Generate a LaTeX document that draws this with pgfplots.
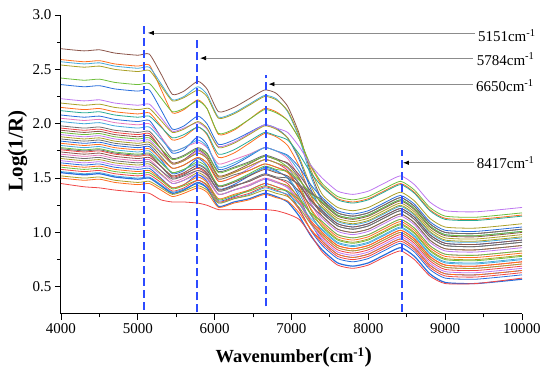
\documentclass[border=0pt]{standalone}
\usepackage{fontspec}
\setmainfont{Liberation Serif}
\usepackage{pgfplots}
\pgfplotsset{compat=1.18}
\usetikzlibrary{arrows.meta}
\definecolor{cbrown}{RGB}{140,86,75}
\definecolor{corange}{RGB}{255,110,30}
\definecolor{ccyan}{RGB}{70,170,220}
\definecolor{colive}{RGB}{170,160,40}
\definecolor{cgreen}{RGB}{110,190,60}
\definecolor{cblue}{RGB}{40,110,220}
\definecolor{cpurple}{RGB}{190,120,240}
\definecolor{cred}{RGB}{240,70,70}
\definecolor{cpink}{RGB}{230,120,190}
\definecolor{cgray}{RGB}{110,110,110}
\definecolor{cteal}{RGB}{40,170,150}
\definecolor{arrgray}{RGB}{140,140,140}
\definecolor{dashblue}{RGB}{45,75,255}
\begin{document}
\begin{tikzpicture}
\begin{axis}[
  scale only axis, width=461pt, height=299pt,
  at={(0,0)}, anchor=south west,
  xmin=4000, xmax=10000, ymin=0.25, ymax=3.0,
  axis x line*=bottom, axis y line*=left,
  xtick={4000,5000,6000,7000,8000,9000,10000},
  ytick={0.5,1.0,1.5,2.0,2.5,3.0},
  scaled x ticks=false, scaled y ticks=false,
  minor x tick num=1, minor y tick num=1,
  tick align=outside,
  major tick length=6pt, minor tick length=3.5pt,
  every tick/.style={black, line width=0.9pt},
  axis line style={black, line width=1pt},
  tick label style={font=\fontsize{15}{15}\selectfont},
  /pgf/number format/assume math mode=true,
  xticklabel style={/pgf/number format/.cd, fixed, precision=0, 1000 sep={}},
  yticklabel style={/pgf/number format/.cd, fixed, fixed zerofill, precision=1},
  xlabel={\fontsize{18.5}{18.5}\selectfont\bfseries Wavenumber{\fontsize{22}{22}\selectfont(}cm\textsuperscript{-1}{\fontsize{22}{22}\selectfont)}},
  ylabel={\fontsize{21}{21}\selectfont\bfseries Log(1/R)},
  xlabel style={at={(axis description cs:0.505,-0.144)}, anchor=center},
  ylabel style={at={(axis description cs:-0.094,0.545)}, anchor=center},
  clip=false,
  spec/.style={smooth, tension=0.35, line width=0.8pt},
  mark line/.style={color=dashblue, line width=1.7pt, dash pattern=on 8pt off 4pt},
]
\addplot[spec, cbrown] coordinates {(4000,2.69)(4300,2.67)(4500,2.68)(4700,2.65)(5000,2.63)(5150,2.64)(5300,2.46)(5450,2.27)(5600,2.30)(5780,2.39)(5900,2.32)(6050,2.11)(6250,2.15)(6450,2.23)(6650,2.31)(6800,2.28)(6950,2.16)(7100,1.91)(7250,1.55)(7400,1.30)(7600,1.18)(7800,1.15)(8000,1.18)(8200,1.25)(8420,1.32)(8600,1.24)(8800,1.08)(9000,1.00)(9400,0.99)(10000,1.03)};
\addplot[spec, corange] coordinates {(4000,2.59)(4300,2.57)(4500,2.58)(4700,2.55)(5000,2.53)(5150,2.54)(5300,2.32)(5450,2.10)(5600,2.13)(5780,2.22)(5900,2.14)(6050,1.90)(6250,1.94)(6450,2.04)(6650,2.14)(6800,2.11)(6950,2.03)(7100,1.86)(7250,1.61)(7400,1.43)(7600,1.31)(7800,1.28)(8000,1.31)(8200,1.38)(8420,1.45)(8600,1.37)(8800,1.21)(9000,1.13)(9400,1.12)(10000,1.16)};
\addplot[spec, ccyan] coordinates {(4000,2.57)(4300,2.55)(4500,2.56)(4700,2.53)(5000,2.51)(5150,2.52)(5300,2.37)(5450,2.22)(5600,2.25)(5780,2.34)(5900,2.27)(6050,2.06)(6250,2.10)(6450,2.18)(6650,2.26)(6800,2.23)(6950,2.11)(7100,1.87)(7250,1.52)(7400,1.28)(7600,1.16)(7800,1.13)(8000,1.16)(8200,1.23)(8420,1.30)(8600,1.22)(8800,1.06)(9000,0.98)(9400,0.97)(10000,1.01)};
\addplot[spec, colive] coordinates {(4000,2.54)(4300,2.52)(4500,2.53)(4700,2.50)(5000,2.48)(5150,2.49)(5300,2.35)(5450,2.21)(5600,2.24)(5780,2.31)(5900,2.25)(6050,2.05)(6250,2.09)(6450,2.17)(6650,2.25)(6800,2.22)(6950,2.12)(7100,1.89)(7250,1.58)(7400,1.35)(7600,1.23)(7800,1.20)(8000,1.23)(8200,1.30)(8420,1.37)(8600,1.29)(8800,1.13)(9000,1.05)(9400,1.04)(10000,1.08)};
\addplot[spec, cgreen] coordinates {(4000,2.42)(4300,2.40)(4500,2.41)(4700,2.38)(5000,2.36)(5150,2.37)(5300,2.24)(5450,2.11)(5600,2.14)(5780,2.21)(5900,2.14)(6050,1.91)(6250,1.95)(6450,2.04)(6650,2.13)(6800,2.10)(6950,2.03)(7100,1.86)(7250,1.62)(7400,1.45)(7600,1.33)(7800,1.30)(8000,1.33)(8200,1.40)(8420,1.47)(8600,1.39)(8800,1.23)(9000,1.15)(9400,1.14)(10000,1.18)};
\addplot[spec, cblue] coordinates {(4000,2.36)(4300,2.34)(4500,2.35)(4700,2.32)(5000,2.30)(5150,2.31)(5300,2.13)(5450,1.95)(5600,1.98)(5780,2.07)(5900,2.00)(6050,1.81)(6250,1.85)(6450,1.92)(6650,1.99)(6800,1.96)(6950,1.87)(7100,1.67)(7250,1.40)(7400,1.20)(7600,1.08)(7800,1.05)(8000,1.08)(8200,1.15)(8420,1.22)(8600,1.14)(8800,0.98)(9000,0.90)(9400,0.89)(10000,0.93)};
\addplot[spec, cpurple] coordinates {(4000,2.23)(4300,2.21)(4500,2.22)(4700,2.19)(5000,2.17)(5150,2.18)(5300,2.06)(5450,1.93)(5600,1.96)(5780,2.01)(5900,1.95)(6050,1.79)(6250,1.83)(6450,1.91)(6650,1.99)(6800,1.96)(6950,1.92)(7100,1.79)(7250,1.62)(7400,1.50)(7600,1.38)(7800,1.35)(8000,1.38)(8200,1.45)(8420,1.52)(8600,1.44)(8800,1.28)(9000,1.20)(9400,1.19)(10000,1.23)};
\addplot[spec, colive] coordinates {(4000,2.19)(4300,2.17)(4500,2.18)(4700,2.15)(5000,2.13)(5150,2.14)(5300,2.03)(5450,1.92)(5600,1.95)(5780,2.02)(5900,1.96)(6050,1.78)(6250,1.82)(6450,1.90)(6650,1.98)(6800,1.95)(6950,1.87)(7100,1.69)(7250,1.43)(7400,1.25)(7600,1.13)(7800,1.10)(8000,1.13)(8200,1.20)(8420,1.27)(8600,1.19)(8800,1.03)(9000,0.95)(9400,0.94)(10000,0.98)};
\addplot[spec, corange] coordinates {(4000,2.15)(4300,2.13)(4500,2.14)(4700,2.11)(5000,2.09)(5150,2.10)(5300,1.98)(5450,1.85)(5600,1.88)(5780,1.97)(5900,1.90)(6050,1.69)(6250,1.73)(6450,1.82)(6650,1.91)(6800,1.88)(6950,1.80)(7100,1.61)(7250,1.34)(7400,1.15)(7600,1.03)(7800,1.00)(8000,1.03)(8200,1.10)(8420,1.17)(8600,1.09)(8800,0.93)(9000,0.85)(9400,0.84)(10000,0.88)};
\addplot[spec, cteal] coordinates {(4000,2.12)(4300,2.10)(4500,2.11)(4700,2.08)(5000,2.06)(5150,2.07)(5300,1.97)(5450,1.87)(5600,1.90)(5780,1.97)(5900,1.91)(6050,1.72)(6250,1.76)(6450,1.84)(6650,1.92)(6800,1.89)(6950,1.85)(7100,1.72)(7250,1.55)(7400,1.42)(7600,1.30)(7800,1.27)(8000,1.30)(8200,1.37)(8420,1.44)(8600,1.36)(8800,1.20)(9000,1.12)(9400,1.11)(10000,1.15)};
\addplot[spec, cblue] coordinates {(4000,2.08)(4300,2.06)(4500,2.07)(4700,2.04)(5000,2.02)(5150,2.03)(5300,1.88)(5450,1.73)(5600,1.76)(5780,1.88)(5900,1.81)(6050,1.58)(6250,1.62)(6450,1.70)(6650,1.78)(6800,1.75)(6950,1.71)(7100,1.60)(7250,1.44)(7400,1.32)(7600,1.20)(7800,1.17)(8000,1.20)(8200,1.27)(8420,1.34)(8600,1.26)(8800,1.10)(9000,1.02)(9400,1.01)(10000,1.05)};
\addplot[spec, cpink] coordinates {(4000,2.05)(4300,2.03)(4500,2.04)(4700,2.01)(5000,1.99)(5150,2.00)(5300,1.88)(5450,1.75)(5600,1.78)(5780,1.83)(5900,1.78)(6050,1.63)(6250,1.67)(6450,1.72)(6650,1.78)(6800,1.75)(6950,1.68)(7100,1.51)(7250,1.27)(7400,1.10)(7600,0.98)(7800,0.95)(8000,0.98)(8200,1.05)(8420,1.12)(8600,1.04)(8800,0.88)(9000,0.80)(9400,0.79)(10000,0.83)};
\addplot[spec, ccyan] coordinates {(4000,2.02)(4300,2.00)(4500,2.01)(4700,1.98)(5000,1.96)(5150,1.97)(5300,1.86)(5450,1.75)(5600,1.78)(5780,1.85)(5900,1.79)(6050,1.60)(6250,1.64)(6450,1.71)(6650,1.78)(6800,1.75)(6950,1.70)(7100,1.56)(7250,1.36)(7400,1.22)(7600,1.10)(7800,1.07)(8000,1.10)(8200,1.17)(8420,1.24)(8600,1.16)(8800,1.00)(9000,0.92)(9400,0.91)(10000,0.95)};
\addplot[spec, cgray] coordinates {(4000,1.98)(4300,1.96)(4500,1.97)(4700,1.94)(5000,1.92)(5150,1.93)(5300,1.81)(5450,1.68)(5600,1.71)(5780,1.78)(5900,1.73)(6050,1.56)(6250,1.60)(6450,1.65)(6650,1.71)(6800,1.68)(6950,1.63)(7100,1.50)(7250,1.31)(7400,1.18)(7600,1.06)(7800,1.03)(8000,1.06)(8200,1.13)(8420,1.20)(8600,1.12)(8800,0.96)(9000,0.88)(9400,0.87)(10000,0.91)};
\addplot[spec, cred] coordinates {(4000,1.96)(4300,1.94)(4500,1.95)(4700,1.92)(5000,1.90)(5150,1.91)(5300,1.77)(5450,1.63)(5600,1.66)(5780,1.73)(5900,1.68)(6050,1.51)(6250,1.55)(6450,1.61)(6650,1.67)(6800,1.64)(6950,1.57)(7100,1.40)(7250,1.17)(7400,1.00)(7600,0.88)(7800,0.85)(8000,0.88)(8200,0.95)(8420,1.02)(8600,0.94)(8800,0.78)(9000,0.70)(9400,0.69)(10000,0.73)};
\addplot[spec, cbrown] coordinates {(4000,1.94)(4300,1.92)(4500,1.93)(4700,1.90)(5000,1.88)(5150,1.89)(5300,1.77)(5450,1.64)(5600,1.67)(5780,1.76)(5900,1.70)(6050,1.52)(6250,1.56)(6450,1.63)(6650,1.70)(6800,1.67)(6950,1.64)(7100,1.53)(7250,1.38)(7400,1.27)(7600,1.15)(7800,1.12)(8000,1.15)(8200,1.22)(8420,1.29)(8600,1.21)(8800,1.05)(9000,0.97)(9400,0.96)(10000,1.00)};
\addplot[spec, cgreen] coordinates {(4000,1.92)(4300,1.90)(4500,1.91)(4700,1.88)(5000,1.86)(5150,1.87)(5300,1.77)(5450,1.67)(5600,1.70)(5780,1.77)(5900,1.72)(6050,1.55)(6250,1.59)(6450,1.64)(6650,1.70)(6800,1.67)(6950,1.60)(7100,1.44)(7250,1.21)(7400,1.05)(7600,0.93)(7800,0.90)(8000,0.93)(8200,1.00)(8420,1.07)(8600,0.99)(8800,0.83)(9000,0.75)(9400,0.74)(10000,0.78)};
\addplot[spec, cpurple] coordinates {(4000,1.90)(4300,1.88)(4500,1.89)(4700,1.86)(5000,1.84)(5150,1.85)(5300,1.74)(5450,1.63)(5600,1.66)(5780,1.75)(5900,1.68)(6050,1.47)(6250,1.51)(6450,1.59)(6650,1.67)(6800,1.64)(6950,1.59)(7100,1.45)(7250,1.27)(7400,1.13)(7600,1.01)(7800,0.98)(8000,1.01)(8200,1.08)(8420,1.15)(8600,1.07)(8800,0.91)(9000,0.83)(9400,0.82)(10000,0.86)};
\addplot[spec, colive] coordinates {(4000,1.88)(4300,1.86)(4500,1.87)(4700,1.84)(5000,1.82)(5150,1.83)(5300,1.73)(5450,1.63)(5600,1.66)(5780,1.73)(5900,1.68)(6050,1.51)(6250,1.55)(6450,1.61)(6650,1.67)(6800,1.64)(6950,1.60)(7100,1.49)(7250,1.34)(7400,1.23)(7600,1.11)(7800,1.08)(8000,1.11)(8200,1.18)(8420,1.25)(8600,1.17)(8800,1.01)(9000,0.93)(9400,0.92)(10000,0.96)};
\addplot[spec, cgray] coordinates {(4000,1.86)(4300,1.84)(4500,1.85)(4700,1.82)(5000,1.80)(5150,1.81)(5300,1.70)(5450,1.59)(5600,1.62)(5780,1.69)(5900,1.64)(6050,1.49)(6250,1.53)(6450,1.57)(6650,1.63)(6800,1.60)(6950,1.56)(7100,1.45)(7250,1.29)(7400,1.18)(7600,1.06)(7800,1.03)(8000,1.06)(8200,1.13)(8420,1.20)(8600,1.12)(8800,0.96)(9000,0.88)(9400,0.87)(10000,0.91)};
\addplot[spec, cblue] coordinates {(4000,1.84)(4300,1.82)(4500,1.83)(4700,1.80)(5000,1.78)(5150,1.79)(5300,1.67)(5450,1.54)(5600,1.57)(5780,1.68)(5900,1.61)(6050,1.40)(6250,1.44)(6450,1.52)(6650,1.60)(6800,1.57)(6950,1.50)(7100,1.33)(7250,1.09)(7400,0.92)(7600,0.80)(7800,0.77)(8000,0.80)(8200,0.87)(8420,0.94)(8600,0.86)(8800,0.70)(9000,0.62)(9400,0.61)(10000,0.65)};
\addplot[spec, corange] coordinates {(4000,1.82)(4300,1.80)(4500,1.81)(4700,1.78)(5000,1.76)(5150,1.77)(5300,1.68)(5450,1.59)(5600,1.62)(5780,1.69)(5900,1.64)(6050,1.47)(6250,1.51)(6450,1.57)(6650,1.63)(6800,1.60)(6950,1.55)(7100,1.41)(7250,1.22)(7400,1.08)(7600,0.96)(7800,0.93)(8000,0.96)(8200,1.03)(8420,1.10)(8600,1.02)(8800,0.86)(9000,0.78)(9400,0.77)(10000,0.81)};
\addplot[spec, ccyan] coordinates {(4000,1.80)(4300,1.78)(4500,1.79)(4700,1.76)(5000,1.74)(5150,1.75)(5300,1.65)(5450,1.55)(5600,1.58)(5780,1.63)(5900,1.58)(6050,1.43)(6250,1.47)(6450,1.53)(6650,1.59)(6800,1.56)(6950,1.51)(7100,1.36)(7250,1.16)(7400,1.02)(7600,0.90)(7800,0.87)(8000,0.90)(8200,0.97)(8420,1.04)(8600,0.96)(8800,0.80)(9000,0.72)(9400,0.71)(10000,0.75)};
\addplot[spec, cgreen] coordinates {(4000,1.78)(4300,1.76)(4500,1.77)(4700,1.74)(5000,1.72)(5150,1.73)(5300,1.64)(5450,1.55)(5600,1.58)(5780,1.65)(5900,1.60)(6050,1.43)(6250,1.47)(6450,1.54)(6650,1.61)(6800,1.58)(6950,1.56)(7100,1.48)(7250,1.36)(7400,1.28)(7600,1.16)(7800,1.13)(8000,1.16)(8200,1.23)(8420,1.30)(8600,1.22)(8800,1.06)(9000,0.98)(9400,0.97)(10000,1.01)};
\addplot[spec, cred] coordinates {(4000,1.76)(4300,1.74)(4500,1.75)(4700,1.72)(5000,1.70)(5150,1.71)(5300,1.61)(5450,1.51)(5600,1.54)(5780,1.59)(5900,1.54)(6050,1.39)(6250,1.43)(6450,1.47)(6650,1.53)(6800,1.50)(6950,1.45)(7100,1.30)(7250,1.10)(7400,0.96)(7600,0.84)(7800,0.81)(8000,0.84)(8200,0.91)(8420,0.98)(8600,0.90)(8800,0.74)(9000,0.66)(9400,0.65)(10000,0.69)};
\addplot[spec, cbrown] coordinates {(4000,1.74)(4300,1.72)(4500,1.73)(4700,1.70)(5000,1.68)(5150,1.69)(5300,1.61)(5450,1.52)(5600,1.55)(5780,1.62)(5900,1.57)(6050,1.42)(6250,1.46)(6450,1.52)(6650,1.58)(6800,1.55)(6950,1.52)(7100,1.43)(7250,1.30)(7400,1.20)(7600,1.08)(7800,1.05)(8000,1.08)(8200,1.15)(8420,1.22)(8600,1.14)(8800,0.98)(9000,0.90)(9400,0.89)(10000,0.93)};
\addplot[spec, cpink] coordinates {(4000,1.72)(4300,1.70)(4500,1.71)(4700,1.68)(5000,1.66)(5150,1.67)(5300,1.57)(5450,1.47)(5600,1.50)(5780,1.57)(5900,1.52)(6050,1.35)(6250,1.39)(6450,1.44)(6650,1.50)(6800,1.47)(6950,1.42)(7100,1.29)(7250,1.11)(7400,0.98)(7600,0.86)(7800,0.83)(8000,0.86)(8200,0.93)(8420,1.00)(8600,0.92)(8800,0.76)(9000,0.68)(9400,0.67)(10000,0.71)};
\addplot[spec, cgray] coordinates {(4000,1.70)(4300,1.68)(4500,1.69)(4700,1.66)(5000,1.64)(5150,1.65)(5300,1.57)(5450,1.49)(5600,1.52)(5780,1.57)(5900,1.53)(6050,1.39)(6250,1.43)(6450,1.47)(6650,1.53)(6800,1.50)(6950,1.47)(7100,1.38)(7250,1.25)(7400,1.15)(7600,1.03)(7800,1.00)(8000,1.03)(8200,1.10)(8420,1.17)(8600,1.09)(8800,0.93)(9000,0.85)(9400,0.84)(10000,0.88)};
\addplot[spec, colive] coordinates {(4000,1.68)(4300,1.66)(4500,1.67)(4700,1.64)(5000,1.62)(5150,1.63)(5300,1.54)(5450,1.45)(5600,1.48)(5780,1.55)(5900,1.50)(6050,1.35)(6250,1.39)(6450,1.43)(6650,1.49)(6800,1.46)(6950,1.43)(7100,1.32)(7250,1.17)(7400,1.06)(7600,0.94)(7800,0.91)(8000,0.94)(8200,1.01)(8420,1.08)(8600,1.00)(8800,0.84)(9000,0.76)(9400,0.75)(10000,0.79)};
\addplot[spec, cpurple] coordinates {(4000,1.66)(4300,1.64)(4500,1.65)(4700,1.62)(5000,1.60)(5150,1.61)(5300,1.53)(5450,1.45)(5600,1.48)(5780,1.53)(5900,1.49)(6050,1.35)(6250,1.39)(6450,1.43)(6650,1.49)(6800,1.46)(6950,1.41)(7100,1.27)(7250,1.08)(7400,0.94)(7600,0.82)(7800,0.79)(8000,0.82)(8200,0.89)(8420,0.96)(8600,0.88)(8800,0.72)(9000,0.64)(9400,0.63)(10000,0.67)};
\addplot[spec, cblue] coordinates {(4000,1.64)(4300,1.62)(4500,1.63)(4700,1.60)(5000,1.58)(5150,1.59)(5300,1.50)(5450,1.41)(5600,1.44)(5780,1.53)(5900,1.47)(6050,1.29)(6250,1.33)(6450,1.39)(6650,1.45)(6800,1.42)(6950,1.37)(7100,1.22)(7250,1.02)(7400,0.88)(7600,0.76)(7800,0.73)(8000,0.76)(8200,0.83)(8420,0.90)(8600,0.82)(8800,0.66)(9000,0.58)(9400,0.57)(10000,0.61)};
\addplot[spec, corange] coordinates {(4000,1.62)(4300,1.60)(4500,1.61)(4700,1.58)(5000,1.56)(5150,1.57)(5300,1.49)(5450,1.41)(5600,1.44)(5780,1.51)(5900,1.46)(6050,1.31)(6250,1.35)(6450,1.39)(6650,1.45)(6800,1.42)(6950,1.38)(7100,1.27)(7250,1.11)(7400,1.00)(7600,0.88)(7800,0.85)(8000,0.88)(8200,0.95)(8420,1.02)(8600,0.94)(8800,0.78)(9000,0.70)(9400,0.69)(10000,0.73)};
\addplot[spec, cgreen] coordinates {(4000,1.60)(4300,1.58)(4500,1.59)(4700,1.56)(5000,1.54)(5150,1.55)(5300,1.48)(5450,1.40)(5600,1.43)(5780,1.48)(5900,1.44)(6050,1.30)(6250,1.34)(6450,1.38)(6650,1.43)(6800,1.40)(6950,1.38)(7100,1.30)(7250,1.18)(7400,1.10)(7600,0.98)(7800,0.95)(8000,0.98)(8200,1.05)(8420,1.12)(8600,1.04)(8800,0.88)(9000,0.80)(9400,0.79)(10000,0.83)};
\addplot[spec, cred] coordinates {(4000,1.58)(4300,1.56)(4500,1.57)(4700,1.54)(5000,1.52)(5150,1.53)(5300,1.46)(5450,1.38)(5600,1.41)(5780,1.48)(5900,1.43)(6050,1.28)(6250,1.32)(6450,1.36)(6650,1.42)(6800,1.39)(6950,1.34)(7100,1.21)(7250,1.03)(7400,0.90)(7600,0.78)(7800,0.75)(8000,0.78)(8200,0.85)(8420,0.92)(8600,0.84)(8800,0.68)(9000,0.60)(9400,0.59)(10000,0.63)};
\addplot[spec, ccyan] coordinates {(4000,1.56)(4300,1.54)(4500,1.55)(4700,1.52)(5000,1.50)(5150,1.51)(5300,1.44)(5450,1.37)(5600,1.40)(5780,1.45)(5900,1.41)(6050,1.27)(6250,1.31)(6450,1.35)(6650,1.41)(6800,1.38)(6950,1.35)(7100,1.26)(7250,1.13)(7400,1.03)(7600,0.91)(7800,0.88)(8000,0.91)(8200,0.98)(8420,1.05)(8600,0.97)(8800,0.81)(9000,0.73)(9400,0.72)(10000,0.76)};
\addplot[spec, cblue, line width=1.2pt] coordinates {(4000,1.55)(4300,1.53)(4500,1.54)(4700,1.51)(5000,1.49)(5150,1.50)(5300,1.43)(5450,1.36)(5600,1.39)(5780,1.46)(5900,1.41)(6050,1.24)(6250,1.28)(6450,1.31)(6650,1.36)(6800,1.33)(6950,1.28)(7100,1.15)(7250,0.97)(7400,0.84)(7600,0.72)(7800,0.69)(8000,0.72)(8200,0.79)(8420,0.86)(8600,0.78)(8800,0.62)(9000,0.54)(9400,0.53)(10000,0.57)};
\addplot[spec, colive] coordinates {(4000,1.52)(4300,1.50)(4500,1.51)(4700,1.48)(5000,1.46)(5150,1.47)(5300,1.41)(5450,1.35)(5600,1.38)(5780,1.43)(5900,1.39)(6050,1.27)(6250,1.31)(6450,1.34)(6650,1.39)(6800,1.36)(6950,1.33)(7100,1.23)(7250,1.08)(7400,0.98)(7600,0.86)(7800,0.83)(8000,0.86)(8200,0.93)(8420,1.00)(8600,0.92)(8800,0.76)(9000,0.68)(9400,0.67)(10000,0.71)};
\addplot[spec, corange] coordinates {(4000,1.50)(4300,1.48)(4500,1.49)(4700,1.46)(5000,1.44)(5150,1.45)(5300,1.39)(5450,1.33)(5600,1.36)(5780,1.41)(5900,1.37)(6050,1.23)(6250,1.27)(6450,1.30)(6650,1.35)(6800,1.32)(6950,1.29)(7100,1.18)(7250,1.03)(7400,0.92)(7600,0.80)(7800,0.77)(8000,0.80)(8200,0.87)(8420,0.94)(8600,0.86)(8800,0.70)(9000,0.62)(9400,0.61)(10000,0.65)};
\addplot[spec, cred] coordinates {(4000,1.45)(4300,1.42)(4500,1.41)(4700,1.39)(5000,1.37)(5150,1.36)(5300,1.30)(5450,1.28)(5600,1.28)(5780,1.27)(5900,1.25)(6050,1.21)(6250,1.21)(6450,1.21)(6650,1.21)(6800,1.20)(6950,1.17)(7100,1.12)(7250,0.98)(7400,0.82)(7600,0.70)(7800,0.67)(8000,0.70)(8200,0.77)(8420,0.83)(8600,0.75)(8800,0.60)(9000,0.53)(9400,0.53)(10000,0.58)};
\addplot[spec, cgray] coordinates {(4000,1.77)(4300,1.75)(4500,1.76)(4700,1.73)(5000,1.71)(5150,1.72)(5300,1.61)(5450,1.50)(5600,1.53)(5780,1.60)(5900,1.55)(6050,1.38)(6250,1.42)(6450,1.48)(6650,1.54)(6800,1.51)(6950,1.50)(7100,1.44)(7250,1.36)(7400,1.30)(7600,1.18)(7800,1.15)(8000,1.18)(8200,1.25)(8420,1.32)(8600,1.24)(8800,1.08)(9000,1.00)(9400,0.99)(10000,1.03)};
% dashed marker lines
\addplot[mark line] coordinates {(5084,0.29)(5084,2.93)};
\addplot[mark line] coordinates {(5774,0.264)(5774,2.78)};
\addplot[mark line] coordinates {(6672,0.32)(6672,2.447)};
\addplot[mark line] coordinates {(8434,0.27)(8434,1.758)};
% arrows and labels
\draw[arrgray, line width=0.8pt, -{Latex[black,length=6pt,width=4.5pt]}] (axis cs:9390,2.835) -- (axis cs:5130,2.835);
\draw[arrgray, line width=0.8pt, -{Latex[black,length=6pt,width=4.5pt]}] (axis cs:9360,2.603) -- (axis cs:5810,2.603);
\draw[arrgray, line width=0.8pt, -{Latex[black,length=6pt,width=4.5pt]}] (axis cs:9360,2.364) -- (axis cs:6700,2.364);
\draw[arrgray, line width=0.8pt, -{Latex[black,length=6pt,width=4.5pt]}] (axis cs:9370,1.641) -- (axis cs:8450,1.641);
\node[anchor=base west, inner sep=0pt, yshift=-9pt, font=\fontsize{15}{15}\selectfont] at (axis cs:9425,2.835) {5151cm\textsuperscript{-1}};
\node[anchor=base west, inner sep=0pt, yshift=-7pt, font=\fontsize{15}{15}\selectfont] at (axis cs:9410,2.603) {5784cm\textsuperscript{-1}};
\node[anchor=base west, inner sep=0pt, yshift=-7.7pt, font=\fontsize{15}{15}\selectfont] at (axis cs:9400,2.364) {6650cm\textsuperscript{-1}};
\node[anchor=base west, inner sep=0pt, yshift=-5.6pt, font=\fontsize{15}{15}\selectfont] at (axis cs:9410,1.641) {8417cm\textsuperscript{-1}};
\end{axis}
\pgfresetboundingbox
\path (-61pt,-63pt) rectangle (489pt,314pt);
\end{tikzpicture}
\end{document}
